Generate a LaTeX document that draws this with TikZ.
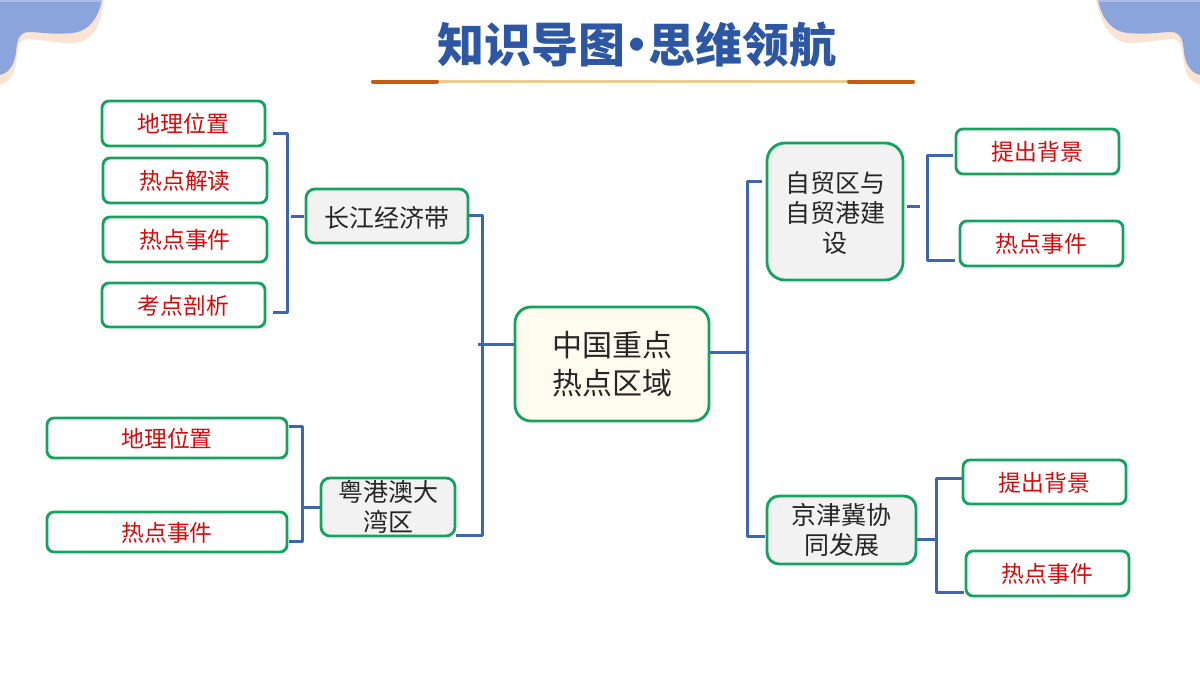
\documentclass[tikz,border=0pt]{standalone}
\usepackage{fontspec}
\setmainfont{Noto Sans CJK SC}
\newfontfamily\titlefont{Noto Sans CJK SC Black}
\definecolor{cblue}{HTML}{3F65B0}
\definecolor{cgreen}{HTML}{14A35E}
\definecolor{cred}{HTML}{D60A0A}
\definecolor{cfill}{HTML}{F2F2F2}
\definecolor{crootfill}{HTML}{FFFBEF}
\definecolor{ctitle}{HTML}{2D56A3}
\definecolor{cwave}{HTML}{8AA5DC}
\definecolor{cwavetop}{HTML}{A9BFE8}
\definecolor{cpeach}{HTML}{FBE3D3}
\definecolor{cbar}{HTML}{C55A11}
\definecolor{cbarlight}{HTML}{EFCB94}
\tikzset{
  x=1pt,y=-1pt,
  leaf/.style={draw=cgreen,line width=2.8pt,fill=white,rounded corners=7pt,text=cred,font=\fontsize{22.8}{26}\selectfont,inner sep=0pt,align=center,text height=20pt,text depth=2pt},
  branch/.style={draw=cgreen,line width=2.8pt,fill=cfill,text=black!85,inner sep=0pt,align=center,font=\fontsize{25}{30}\selectfont},
  conn/.style={draw=cblue,line width=3pt,line join=round}
}
\begin{document}
\begin{tikzpicture}
\useasboundingbox (0,0) rectangle (1200,675);
% corner waves
\fill[cpeach] (0,0) -- (104,0) .. controls (102,25) and (92,43) .. (72,43) .. controls (50,43) and (35,38) .. (25,39) .. controls (17,41) and (18,55) .. (15,68) .. controls (12,78) and (8,82) .. (0,85) -- cycle;
\fill[cwave] (0,0) -- (102,0) .. controls (98,20) and (87,32) .. (72,33) .. controls (55,35) and (40,32) .. (28,32) .. controls (18,33) and (17,42) .. (16,52) .. controls (14,68) and (7,73) .. (0,75) -- cycle;
\fill[cwavetop] (0,0) rectangle (102,1.5);
\fill[cpeach] (1200,0) -- (1096,0) .. controls (1101,25) and (1112,43) .. (1130,43) .. controls (1150,43) and (1165,38) .. (1175,39) .. controls (1183,41) and (1182,55) .. (1185,68) .. controls (1188,78) and (1192,82) .. (1200,85) -- cycle;
\fill[cwave] (1200,0) -- (1098,0) .. controls (1102,20) and (1113,32) .. (1128,33) .. controls (1145,35) and (1160,32) .. (1172,32) .. controls (1182,33) and (1183,42) .. (1184,52) .. controls (1186,68) and (1193,73) .. (1200,75) -- cycle;
\fill[cwavetop] (1098,0) rectangle (1200,1.5);
% title
\node[inner sep=0pt,text=ctitle,font=\titlefont\fontsize{47}{50}\selectfont] (title) at (636.5,45) {知识导图\kern-12pt·\kern-12pt思维领航};
\coordinate (ruleL) at (373,81.5);
\coordinate (ruleML) at (437,81.5);
\coordinate (ruleMR) at (849,81.5);
\coordinate (ruleR) at (913,81.5);
\draw[cbarlight,line width=2.5pt] (ruleML) -- (ruleMR);
\draw[cbar,line width=4pt,line cap=round] (ruleL) -- (ruleML);
\draw[cbar,line width=4pt,line cap=round] (ruleMR) -- (ruleR);
% nodes
\node[leaf,minimum width=163,minimum height=45] (a1) at (183.5,123.5) {地理位置};
\node[leaf,minimum width=164,minimum height=45] (a2) at (185,180.5) {热点解读};
\node[leaf,minimum width=164,minimum height=45] (a3) at (185,239.5) {热点事件};
\node[leaf,minimum width=163,minimum height=44] (a4) at (183.5,305) {考点剖析};
\node[branch,rounded corners=9pt,minimum width=162,minimum height=54] (cj) at (387,216) {\rule{0pt}{24pt}长江经济带};
\node[leaf,minimum width=240,minimum height=40] (b1) at (167,438) {地理位置};
\node[leaf,minimum width=240,minimum height=40] (b2) at (167,532) {热点事件};
\node[branch,rounded corners=9pt,minimum width=134,minimum height=58] (yg) at (388,507) {粤港澳大\\湾区};
\node[draw=cgreen,line width=2.8pt,fill=crootfill,rounded corners=16pt,text=black!85,inner sep=0pt,align=center,font=\fontsize{30}{38}\selectfont,minimum width=194,minimum height=114] (root) at (612,364) {中国重点\\热点区域};
\node[branch,rounded corners=18pt,minimum width=136,minimum height=137] (zm) at (835,211.5) {\rule{0pt}{24pt}自贸区与\\自贸港建\\设};
\node[branch,rounded corners=12pt,minimum width=149,minimum height=68] (jj) at (841.5,530) {京津冀协\\同发展};
\node[leaf,minimum width=163,minimum height=45] (c1) at (1037.5,151.5) {提出背景};
\node[leaf,minimum width=163,minimum height=45] (c2) at (1041.5,243.5) {热点事件};
\node[leaf,minimum width=163,minimum height=44] (d1) at (1044.5,482) {提出背景};
\node[leaf,minimum width=163,minimum height=45] (d2) at (1047.5,573.5) {热点事件};
% junction coordinates
\coordinate (j1a) at (273,133);
\coordinate (j1b) at (287,133);
\coordinate (j1c) at (287,312);
\coordinate (j1d) at (273,312);
\coordinate (s1) at (291,216);
\coordinate (s1e) at (304,216);
\coordinate (j2a) at (289,426);
\coordinate (j2b) at (302,426);
\coordinate (j2c) at (302,541);
\coordinate (j2d) at (289,541);
\coordinate (s2) at (304,507);
\coordinate (r0) at (478,344);
\coordinate (r1) at (482,215);
\coordinate (r2) at (482,535);
\coordinate (j3a) at (762,181);
\coordinate (j3b) at (747,181);
\coordinate (j3c) at (747,536);
\coordinate (j3d) at (765,536);
\coordinate (s3) at (747,352);
\coordinate (j4a) at (953,155);
\coordinate (j4b) at (927,155);
\coordinate (j4c) at (927,260);
\coordinate (j4d) at (955,260);
\coordinate (s4) at (920,206);
\coordinate (j5a) at (962,478);
\coordinate (j5b) at (936,478);
\coordinate (j5c) at (936,592);
\coordinate (j5d) at (964,592);
\coordinate (s5) at (936,539);
% connectors
\draw[conn] (j1a) -- (j1b) -- (j1c) -- (j1d);
\draw[conn] (s1) -- (s1e);
\draw[conn] (j2a) -- (j2b) -- (j2c) -- (j2d);
\draw[conn] (s2) -- (yg.west |- s2);
\draw[conn] (cj.east |- r1) -- (r1) -- (r2) -- (yg.east |- r2);
\draw[conn] (r0) -- (root.west |- r0);
\draw[conn] (root.east |- s3) -- (s3);
\draw[conn] (j3a) -- (j3b) -- (j3c) -- (j3d);
\draw[conn] (zm.east |- s4) ++(3,0) -- (s4);
\draw[conn] (j4a) -- (j4b) -- (j4c) -- (j4d);
\draw[conn] (jj.east |- s5) -- (s5);
\draw[conn] (j5a) -- (j5b) -- (j5c) -- (j5d);
\end{tikzpicture}
\end{document}
